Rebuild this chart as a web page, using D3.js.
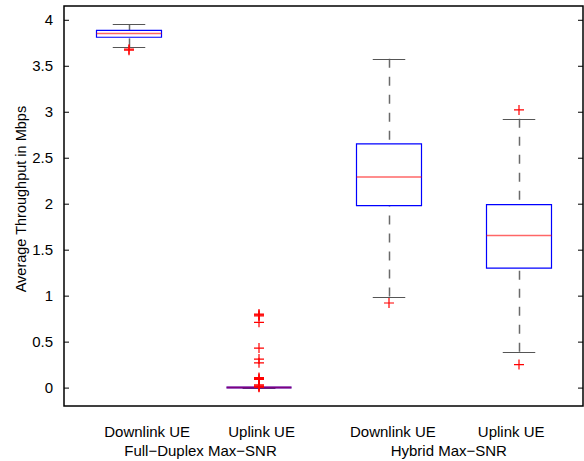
<!DOCTYPE html>
<html lang="en">
<head>
<meta charset="UTF-8">
<script src="https://d3js.org/d3.v7.min.js"></script>
<title>Average Throughput</title>
<style>
html, body { margin: 0; padding: 0; background: #fff; }
svg { display: block; }
text { font-family: 'Liberation Sans', Arial, Helvetica, sans-serif; fill: #000; }
</style>
</head>
<body>
<svg id="canvas"></svg>
<script>
// box statistics, one entry per box
let boxLabels = ['Downlink UE', 'Uplink UE', 'Downlink UE', 'Uplink UE']
let labelPos = [1.14, 2.02, 3.03, 3.94]
let groupLabels = ['Full\u2212Duplex Max\u2212SNR', 'Hybrid Max\u2212SNR']
let groupPos = [1.55, 3.46]

let lowerWhisker = [3.70, 0, 0.99, 0.39]
let q1 = [3.81, 0, 1.98, 1.30]
let median = [3.85, 0, 2.29, 1.655]
let q3 = [3.885, 0, 2.65, 1.99]
let upperWhisker = [3.95, 0, 3.575, 2.925]
let outliers = [
    [3.67, 3.68],
    [0.80, 0.79, 0.78, 0.71, 0.43, 0.31, 0.27, 0.11, 0.10, 0.09, 0.03, 0.02, 0.01, 0.005],
    [0.92],
    [3.02, 0.25]
]

let yTicks = [0, 0.5, 1, 1.5, 2, 2.5, 3, 3.5, 4]

let width = 584
let height = 461
let plotLeft = 64
let plotRight = 583
let plotTop = 6
let plotBottom = 406

let svg = d3.select('#canvas').attr('width', width).attr('height', height)

let xScale = d3.scaleLinear().domain([0.5, 4.5]).range([plotLeft, plotRight + 1])
let yScale = d3.scaleLinear().domain([-0.2, 4.15]).range([plotBottom, plotTop])

let boxW = 0.5
let capW = 0.25

let boxes = boxLabels.map((d, i) => ({
    i: i, pos: i + 1,
    lo: lowerWhisker[i], q1: q1[i], med: median[i], q3: q3[i], hi: upperWhisker[i],
    out: outliers[i]
}))

let plot = svg.append('g')

// whiskers
let whiskerPairs = []
boxes.forEach(b => {
    whiskerPairs.push({ x: b.pos, y1: b.q3, y2: b.hi })
    whiskerPairs.push({ x: b.pos, y1: b.q1, y2: b.lo })
})
plot.selectAll('.whisker')
    .data(whiskerPairs)
    .enter()
    .append('line')
    .attr('class', 'whisker')
    .attr('x1', d => Math.round(xScale(d.x)) + 0.5)
    .attr('x2', d => Math.round(xScale(d.x)) + 0.5)
    .attr('y1', d => yScale(d.y2))
    .attr('y2', d => yScale(d.y1))
    .attr('stroke', '#6a6a6a')
    .attr('stroke-width', 1.5)
    .attr('stroke-dasharray', '9,9')

// caps
let caps = []
boxes.forEach(b => {
    caps.push({ x: b.pos, y: b.hi })
    caps.push({ x: b.pos, y: b.lo })
})
plot.selectAll('.cap')
    .data(caps)
    .enter()
    .append('line')
    .attr('class', 'cap')
    .attr('x1', d => xScale(d.x - capW / 2))
    .attr('x2', d => xScale(d.x + capW / 2))
    .attr('y1', d => Math.round(yScale(d.y)) + 0.5)
    .attr('y2', d => Math.round(yScale(d.y)) + 0.5)
    .attr('stroke', '#555')
    .attr('stroke-width', 1.2)

// boxes (paths so a zero-height box still shows)
plot.selectAll('.box')
    .data(boxes)
    .enter()
    .append('path')
    .attr('class', 'box')
    .attr('d', d => {
        let x0 = xScale(d.pos - boxW / 2), x1 = xScale(d.pos + boxW / 2)
        let y0 = yScale(d.q3), y1 = yScale(d.q1)
        return 'M' + x0 + ',' + y0 + 'H' + x1 + 'V' + y1 + 'H' + x0 + 'Z'
    })
    .attr('fill', 'none')
    .attr('stroke', '#0000ff')
    .attr('stroke-width', d => d.q3 === d.q1 ? 2 : 1.2)

// medians
plot.selectAll('.median')
    .data(boxes)
    .enter()
    .append('line')
    .attr('class', 'median')
    .attr('x1', d => xScale(d.pos - boxW / 2))
    .attr('x2', d => xScale(d.pos + boxW / 2))
    .attr('y1', d => yScale(d.med))
    .attr('y2', d => yScale(d.med))
    .attr('stroke', '#ff0000')
    .attr('stroke-opacity', d => d.q3 === d.q1 ? 0.5 : 0.6)
    .attr('stroke-width', d => d.q3 === d.q1 ? 2 : 1.5)

// outliers
let outPts = []
boxes.forEach(b => b.out.forEach(v => outPts.push({ x: b.pos, y: v })))
plot.selectAll('.outlier')
    .data(outPts)
    .enter()
    .append('path')
    .attr('class', 'outlier')
    .attr('d', d => {
        let cx = xScale(d.x), cy = yScale(d.y), r = 5
        return 'M' + (cx - r) + ',' + cy + 'H' + (cx + r) + 'M' + cx + ',' + (cy - r) + 'V' + (cy + r)
    })
    .attr('fill', 'none')
    .attr('stroke', '#ff0000')
    .attr('stroke-width', 1.2)

// frame
svg.append('rect')
    .attr('x', plotLeft)
    .attr('y', plotTop)
    .attr('width', plotRight - plotLeft)
    .attr('height', plotBottom - plotTop)
    .attr('fill', 'none')
    .attr('stroke', '#000')
    .attr('stroke-width', 1.5)

// y axis (ticks inside, both sides)
let yAxis = d3.axisLeft(yScale)
    .tickValues(yTicks)
    .tickSize(-5)
    .tickPadding(11)
    .tickFormat(d3.format('~g'))

let gy = svg.append('g')
    .attr('transform', 'translate(' + plotLeft + ',0)')
    .call(yAxis)
gy.select('.domain').remove()
gy.selectAll('line').attr('stroke', '#000')
gy.selectAll('text').style('font-size', '15px').attr('fill', '#000')

let yAxisR = d3.axisRight(yScale)
    .tickValues(yTicks)
    .tickSize(-5)
    .tickFormat('')
let gyr = svg.append('g')
    .attr('transform', 'translate(' + plotRight + ',0)')
    .call(yAxisR)
gyr.select('.domain').remove()
gyr.selectAll('line').attr('stroke', '#000')

// category labels
svg.selectAll('.boxlabel')
    .data(boxLabels)
    .enter()
    .append('text')
    .attr('class', 'boxlabel')
    .attr('x', (d, i) => xScale(labelPos[i]))
    .attr('y', 437)
    .attr('text-anchor', 'middle')
    .style('font-size', '15px')
    .text(d => d)

svg.selectAll('.grouplabel')
    .data(groupLabels)
    .enter()
    .append('text')
    .attr('class', 'grouplabel')
    .attr('x', (d, i) => xScale(groupPos[i]))
    .attr('y', 456)
    .attr('text-anchor', 'middle')
    .style('font-size', '15px')
    .text(d => d)

// y label
svg.append('text')
    .attr('transform', 'translate(26,' + yScale(2.05) + ') rotate(-90)')
    .attr('text-anchor', 'middle')
    .style('font-size', '14.5px')
    .text('Average Throughput in Mbps')
</script>
</body>
</html>
